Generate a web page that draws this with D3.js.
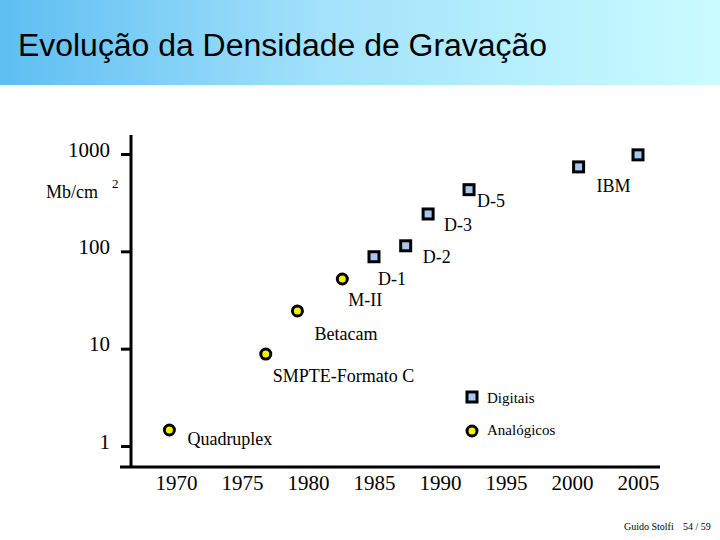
<!DOCTYPE html>
<html><head><meta charset="utf-8">
<script src="https://cdn.jsdelivr.net/npm/d3@7"></script>
<style>body{margin:0;background:#fff}svg{display:block}</style>
</head><body>
<svg id="c" width="720" height="540"></svg>
<script>
const title = "Evolução da Densidade de Gravação";
const xTicks = [1970, 1975, 1980, 1985, 1990, 1995, 2000, 2005];
const yTicks = [1, 10, 100, 1000];
const analogNames = ["Quadruplex", "SMPTE-Formato C", "Betacam", "M-II"];
const analogYears = [1969.5, 1976.8, 1979.2, 1982.6];
const analogValues = [1.46, 8.8, 24.4, 52];
const digitalNames = ["D-1", "D-2", "D-3", "D-5", "IBM", ""];
const digitalYears = [1985.0, 1987.4, 1989.1, 1992.2, 2000.5, 2005.0];
const digitalValues = [88, 114, 242, 430, 737, 980];
const legendLabels = ["Digitais", "Analógicos"];

const svg = d3.select("#c");
const defs = svg.append("defs");
const g = defs.append("linearGradient").attr("id","hdr").attr("x1","0").attr("x2","1");
g.append("stop").attr("offset","0").attr("stop-color","#5ebef2");
g.append("stop").attr("offset","0.45").attr("stop-color","#a3e2fb");
g.append("stop").attr("offset","1").attr("stop-color","#cafcff");
svg.append("rect").attr("x",0).attr("y",0).attr("width",720).attr("height",85).attr("fill","url(#hdr)");
svg.append("text").attr("x",18).attr("y",56).attr("font-family","Liberation Sans, Arial, sans-serif")
  .attr("font-size",31).attr("fill","#000").attr("textLength",529).attr("lengthAdjust","spacingAndGlyphs").text(title);

const x = d3.scaleLinear().domain([1970, 2005]).range([176, 638]);
const y = d3.scaleLog().domain([1, 1000]).range([446, 154]);
const serif = "Liberation Serif, Times New Roman, serif";

// axes lines
svg.append("line").attr("x1",131).attr("x2",131).attr("y1",135).attr("y2",468).attr("stroke","#000").attr("stroke-width",3);
svg.append("line").attr("x1",120).attr("x2",660).attr("y1",467).attr("y2",467).attr("stroke","#000").attr("stroke-width",3);

const yAxis = d3.axisLeft(y).tickValues(yTicks).tickFormat(d3.format("d")).tickSize(10).tickPadding(11);
const ya = svg.append("g").attr("transform","translate(131,0)").call(yAxis);
ya.select(".domain").remove();
ya.selectAll(".tick line").attr("stroke","#000").attr("stroke-width",3);
ya.selectAll(".tick text").attr("font-family",serif).attr("font-size",21).attr("fill","#000").attr("dy","0.1em");

const xAxis = d3.axisBottom(x).tickValues(xTicks).tickFormat(d3.format("d")).tickSize(0).tickPadding(8);
const xa = svg.append("g").attr("transform","translate(0,467)").call(xAxis);
xa.select(".domain").remove();
xa.selectAll(".tick text").attr("font-family",serif).attr("font-size",21).attr("fill","#000");

// y unit
svg.append("text").attr("x",46).attr("y",198).attr("font-family",serif).attr("font-size",18).text("Mb/cm");
svg.append("text").attr("x",112).attr("y",188).attr("font-family",serif).attr("font-size",13).text("2");

const analog = analogNames.map((n,i)=>({n, yr:analogYears[i], v:analogValues[i]}));
const digital = digitalNames.map((n,i)=>({n, yr:digitalYears[i], v:digitalValues[i]}));

svg.selectAll("circle.a").data(analog).enter().append("circle")
  .attr("cx",d=>x(d.yr)).attr("cy",d=>y(d.v)).attr("r",5)
  .attr("fill","#f5f200").attr("stroke","#000").attr("stroke-width",3);
svg.selectAll("rect.d").data(digital).enter().append("rect")
  .attr("x",d=>x(d.yr)-5).attr("y",d=>y(d.v)-5).attr("width",10).attr("height",10)
  .attr("fill","#a6c8f0").attr("stroke","#000").attr("stroke-width",3);

const aOff = [[18,15],[7,28],[17,29],[6,27]];
svg.selectAll("text.al").data(analog).enter().append("text")
  .attr("x",(d,i)=>x(d.yr)+aOff[i][0]).attr("y",(d,i)=>y(d.v)+aOff[i][1])
  .attr("font-family",serif).attr("font-size",18).text(d=>d.n);
const dOff = [[4,28],[17,17],[16,17],[8,17],[18,25],[0,0]];
svg.selectAll("text.dl").data(digital).enter().append("text")
  .attr("x",(d,i)=>x(d.yr)+dOff[i][0]).attr("y",(d,i)=>y(d.v)+dOff[i][1])
  .attr("font-family",serif).attr("font-size",18).text(d=>d.n);

// legend
svg.append("rect").attr("x",467).attr("y",392).attr("width",10).attr("height",10)
  .attr("fill","#a6c8f0").attr("stroke","#000").attr("stroke-width",3);
svg.append("circle").attr("cx",472).attr("cy",431).attr("r",5)
  .attr("fill","#f5f200").attr("stroke","#000").attr("stroke-width",3);
svg.append("text").attr("x",487).attr("y",403).attr("font-family",serif).attr("font-size",15).text(legendLabels[0]);
svg.append("text").attr("x",487).attr("y",435).attr("font-family",serif).attr("font-size",15).text(legendLabels[1]);

// footer
svg.append("text").attr("x",624).attr("y",530).attr("font-family",serif).attr("font-size",10).text("Guido Stolfi");
svg.append("text").attr("x",683).attr("y",530).attr("font-family",serif).attr("font-size",10).text("54 / 59");
</script>
</body></html>
